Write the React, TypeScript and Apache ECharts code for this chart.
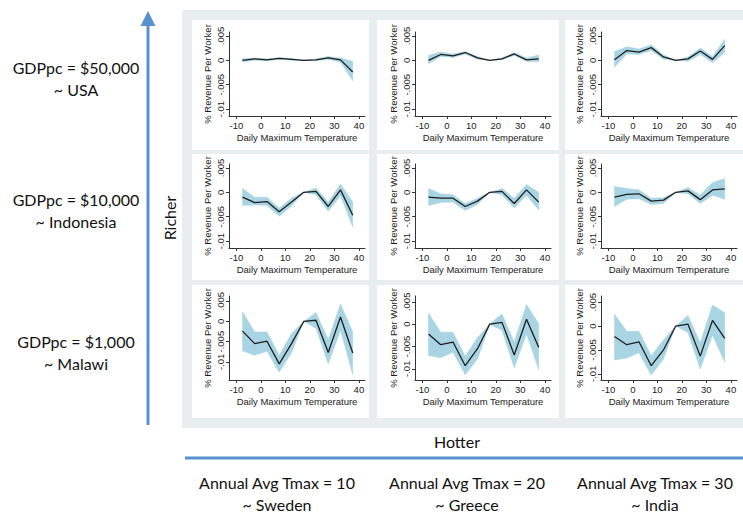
import React, { useEffect, useRef } from "react";
import * as echarts from "echarts";

// Daily maximum temperature bins (bin midpoints, °C); 15-20 is the omitted bin
const tempBins = [-7.5, -2.5, 2.5, 7.5, 12.5, 17.5, 22.5, 27.5, 32.5, 37.5];
const xTicks = [-10, 0, 10, 20, 30, 40];
const yTicks = [-0.01, -0.005, 0, 0.005];
const yTickLabels = ["-.01", "-.005", "0", ".005"];

// GDPpc $50,000 (USA)
const usa10Est = [0.0, 0.0003, 0.0001, 0.0004, 0.0002, 0, 0.0001, 0.0005, 0.0001, -0.0024];
const usa10Lo = [-0.0003, 0.0, -0.0001, 0.0002, 0.0, 0, -0.0001, 0.0002, -0.0004, -0.0042];
const usa10Hi = [0.0003, 0.0005, 0.0003, 0.0006, 0.0004, 0, 0.0003, 0.0008, 0.0005, -0.0002];

const usa20Est = [0.0, 0.0012, 0.0009, 0.0016, 0.0005, 0, 0.0003, 0.0013, 0.0001, 0.0003];
const usa20Lo = [-0.0007, 0.0008, 0.0006, 0.0013, 0.0002, 0, 0.0001, 0.001, -0.0002, -0.0003];
const usa20Hi = [0.001, 0.0017, 0.0013, 0.0018, 0.0008, 0, 0.0005, 0.0016, 0.0005, 0.0011];

const usa30Est = [0.0001, 0.002, 0.0017, 0.0026, 0.0007, 0, 0.0003, 0.0019, 0.0002, 0.003];
const usa30Lo = [-0.0014, 0.0013, 0.0012, 0.002, 0.0002, 0, -0.0002, 0.0012, -0.0005, 0.0016];
const usa30Hi = [0.0018, 0.0028, 0.0023, 0.0032, 0.0011, 0, 0.0007, 0.0025, 0.0008, 0.0043];

// GDPpc $10,000 (Indonesia)
const idn10Est = [-0.001, -0.0021, -0.0019, -0.004, -0.002, 0, 0.0002, -0.0029, 0.0005, -0.0047];
const idn10Lo = [-0.0027, -0.0026, -0.0027, -0.0049, -0.0028, 0, -0.0005, -0.0039, -0.0007, -0.0071];
const idn10Hi = [0.0008, -0.001, -0.001, -0.0032, -0.0012, 0, 0.0009, -0.002, 0.0017, -0.002];

const idn20Est = [-0.001, -0.0012, -0.0012, -0.0029, -0.0018, 0, 0.0002, -0.0023, 0.0005, -0.002];
const idn20Lo = [-0.0027, -0.0021, -0.002, -0.0037, -0.0025, 0, -0.0005, -0.0032, -0.0006, -0.0036];
const idn20Hi = [0.0008, -0.0003, -0.0005, -0.0023, -0.0012, 0, 0.0008, -0.0012, 0.0016, 0.0];

const idn30Est = [-0.001, -0.0004, -0.0003, -0.0018, -0.0016, 0, 0.0003, -0.0015, 0.0005, 0.0007];
const idn30Lo = [-0.0029, -0.0014, -0.0013, -0.0025, -0.0023, 0, -0.0003, -0.0023, -0.0006, -0.0014];
const idn30Hi = [0.0012, 0.0008, 0.0005, -0.0012, -0.0011, 0, 0.001, -0.0006, 0.002, 0.0028];

// GDPpc $1,000 (Malawi)
const mwi10Est = [-0.0024, -0.0055, -0.0049, -0.0105, -0.0055, 0, 0.0003, -0.0077, 0.0011, -0.0078];
const mwi10Lo = [-0.0073, -0.0084, -0.0074, -0.0126, -0.0078, 0, -0.0017, -0.0105, -0.0022, -0.0132];
const mwi10Hi = [0.0024, -0.0026, -0.0026, -0.0084, -0.003, 0, 0.0022, -0.0045, 0.0043, -0.0026];

const mwi20Est = [-0.0022, -0.0046, -0.004, -0.0093, -0.0055, 0, 0.0004, -0.0069, 0.0011, -0.0052];
const mwi20Lo = [-0.007, -0.0075, -0.0063, -0.0113, -0.0078, 0, -0.0014, -0.0098, -0.0022, -0.0102];
const mwi20Hi = [0.0025, -0.0018, -0.0018, -0.0072, -0.003, 0, 0.0023, -0.004, 0.0044, 0.0001];

const mwi30Est = [-0.0022, -0.0039, -0.0033, -0.0083, -0.005, 0, 0.0004, -0.0063, 0.0012, -0.0026];
const mwi30Lo = [-0.0071, -0.0067, -0.0056, -0.0103, -0.0069, 0, -0.0014, -0.009, -0.0019, -0.0076];
const mwi30Hi = [0.0025, -0.0011, -0.0011, -0.0062, -0.0029, 0, 0.0022, -0.0035, 0.0044, 0.0028];

// Row labels (income) and column labels (climate)
const incomeLabels = ["GDPpc = $50,000", "GDPpc = $10,000", "GDPpc = $1,000"];
const incomeCountries = ["~ USA", "~ Indonesia", "~ Malawi"];
const climateLabels = ["Annual Avg Tmax = 10", "Annual Avg Tmax = 20", "Annual Avg Tmax = 30"];
const climateCountries = ["~ Sweden", "~ Greece", "~ India"];

// Panels in reading order: rows = income, columns = climate
const panels = [
  { est: usa10Est, lo: usa10Lo, hi: usa10Hi, yMin: -0.0114, yMax: 0.0058 },
  { est: usa20Est, lo: usa20Lo, hi: usa20Hi, yMin: -0.0114, yMax: 0.0058 },
  { est: usa30Est, lo: usa30Lo, hi: usa30Hi, yMin: -0.0114, yMax: 0.0058 },
  { est: idn10Est, lo: idn10Lo, hi: idn10Hi, yMin: -0.0114, yMax: 0.0058 },
  { est: idn20Est, lo: idn20Lo, hi: idn20Hi, yMin: -0.0114, yMax: 0.0058 },
  { est: idn30Est, lo: idn30Lo, hi: idn30Hi, yMin: -0.0114, yMax: 0.0058 },
  { est: mwi10Est, lo: mwi10Lo, hi: mwi10Hi, yMin: -0.0145, yMax: 0.0063 },
  { est: mwi20Est, lo: mwi20Lo, hi: mwi20Hi, yMin: -0.0125, yMax: 0.0063 },
  { est: mwi30Est, lo: mwi30Lo, hi: mwi30Hi, yMin: -0.0113, yMax: 0.0063 },
];

const STATA_FONT = "'Liberation Sans', Arial, Helvetica, sans-serif";
const NOTE_FONT = "Lato, 'Open Sans', sans-serif";
const ARROW_BLUE = "#5a8fd0";
const BAND_BLUE = "#a8d4e3";
const PANEL_BG = "#e8eef0";

const gridLefts = [229, 415, 601];
const gridTops = [32, 164, 296];
const gridWidth = 136;
const gridHeight = 84;
const boxLefts = [192, 377, 565];
const boxWidths = [177, 182, 190];
const boxTops = [20, 154, 285];
const boxHeights = [130, 126, 133];

function buildOption() {
  const grid: any[] = [];
  const xAxis: any[] = [];
  const yAxis: any[] = [];
  const series: any[] = [];

  panels.forEach((p, i) => {
    const row = Math.floor(i / 3);
    const col = i % 3;
    grid.push({
      left: gridLefts[col],
      top: gridTops[row],
      width: gridWidth,
      height: gridHeight,
      containLabel: false,
    });
    xAxis.push({
      type: "value",
      gridIndex: i,
      min: -13,
      max: 42.5,
      name: "Daily Maximum Temperature",
      nameLocation: "middle",
      nameGap: 16,
      nameTextStyle: { fontFamily: STATA_FONT, fontSize: 9.5, color: "#1a1a1a" },
      axisLine: { show: true, onZero: false, lineStyle: { color: "#333", width: 1 } },
      axisTick: { show: true, length: 3, customValues: xTicks, lineStyle: { color: "#333" } },
      axisLabel: {
        customValues: xTicks,
        margin: 4,
        fontFamily: STATA_FONT,
        fontSize: 9.5,
        color: "#1a1a1a",
      },
      splitLine: { show: false },
    });
    yAxis.push({
      type: "value",
      gridIndex: i,
      min: p.yMin,
      max: p.yMax,
      name: "% Revenue Per Worker",
      nameLocation: "middle",
      nameGap: 17,
      nameTextStyle: { fontFamily: STATA_FONT, fontSize: 9.5, color: "#1a1a1a" },
      axisLine: { show: true, onZero: false, lineStyle: { color: "#333", width: 1 } },
      axisTick: { show: true, length: 3, customValues: yTicks, lineStyle: { color: "#333" } },
      axisLabel: {
        customValues: yTicks,
        rotate: 90,
        margin: 4,
        fontFamily: STATA_FONT,
        fontSize: 9.5,
        color: "#1a1a1a",
        formatter: (v: number) => {
          const k = yTicks.findIndex((t) => Math.abs(t - v) < 1e-9);
          return k >= 0 ? yTickLabels[k] : "";
        },
      },
      splitLine: { show: false },
    });

    // Confidence band: one polygon through the upper bounds and back along the lower bounds
    series.push({
      type: "custom",
      xAxisIndex: i,
      yAxisIndex: i,
      data: tempBins.map((x, k) => [x, p.lo[k], p.hi[k]]),
      encode: { x: 0, y: [1, 2] },
      silent: true,
      z: 1,
      renderItem: (params: any, api: any) => {
        if (params.dataIndex !== 0) return null;
        const upper = tempBins.map((x, k) => api.coord([x, p.hi[k]]));
        const lower = tempBins.map((x, k) => api.coord([x, p.lo[k]])).reverse();
        return {
          type: "polygon",
          shape: { points: upper.concat(lower) },
          style: { fill: BAND_BLUE, stroke: BAND_BLUE, lineWidth: 0.5 },
        };
      },
    });
    series.push({
      type: "line",
      xAxisIndex: i,
      yAxisIndex: i,
      data: tempBins.map((x, k) => [x, p.est[k]]),
      symbol: "none",
      lineStyle: { width: 1.3, color: "#1e1e1e" },
      silent: true,
      z: 3,
    });
  });

  const graphics: any[] = [];
  // Light backdrop and white panel boxes
  graphics.push({
    type: "rect",
    z: -20,
    shape: { x: 182, y: 10, width: 600, height: 418 },
    style: { fill: PANEL_BG },
    silent: true,
  });
  for (let r = 0; r < 3; r++) {
    for (let c = 0; c < 3; c++) {
      graphics.push({
        type: "rect",
        z: -10,
        shape: { x: boxLefts[c], y: boxTops[r], width: boxWidths[c], height: boxHeights[r] },
        style: { fill: "#ffffff" },
        silent: true,
      });
    }
  }

  // "Richer" arrow
  graphics.push({
    type: "line",
    shape: { x1: 148, y1: 425, x2: 148, y2: 22 },
    style: { stroke: ARROW_BLUE, lineWidth: 3 },
    silent: true,
  });
  graphics.push({
    type: "polygon",
    shape: { points: [[148, 11], [140.5, 26], [155.5, 26]] },
    style: { fill: ARROW_BLUE },
    silent: true,
  });
  graphics.push({
    type: "text",
    x: 169,
    y: 218,
    rotation: Math.PI / 2,
    style: {
      text: "Richer",
      fontFamily: NOTE_FONT,
      fontSize: 16,
      fill: "#111",
      align: "center",
      verticalAlign: "middle",
    },
    silent: true,
  });

  // Income row labels
  const rowLineY = [[67, 89], [199, 221], [341, 363]];
  const rowCenterX = [76, 76, 76];
  incomeLabels.forEach((t, r) => {
    graphics.push({
      type: "text",
      x: rowCenterX[r],
      y: rowLineY[r][0],
      style: { text: t, fontFamily: NOTE_FONT, fontSize: 16, fill: "#111", align: "center", verticalAlign: "middle" },
      silent: true,
    });
    graphics.push({
      type: "text",
      x: rowCenterX[r],
      y: rowLineY[r][1],
      style: { text: incomeCountries[r], fontFamily: NOTE_FONT, fontSize: 16, fill: "#111", align: "center", verticalAlign: "middle" },
      silent: true,
    });
  });

  // "Hotter" axis
  graphics.push({
    type: "text",
    x: 457,
    y: 441,
    style: { text: "Hotter", fontFamily: NOTE_FONT, fontSize: 16, fill: "#111", align: "center", verticalAlign: "middle" },
    silent: true,
  });
  graphics.push({
    type: "line",
    shape: { x1: 185, y1: 458, x2: 743, y2: 458 },
    style: { stroke: ARROW_BLUE, lineWidth: 3 },
    silent: true,
  });

  // Climate column labels
  const colCenterX = [277, 467, 655];
  climateLabels.forEach((t, c) => {
    graphics.push({
      type: "text",
      x: colCenterX[c],
      y: 482,
      style: { text: t, fontFamily: NOTE_FONT, fontSize: 16, fill: "#111", align: "center", verticalAlign: "middle" },
      silent: true,
    });
    graphics.push({
      type: "text",
      x: colCenterX[c],
      y: 504,
      style: { text: climateCountries[c], fontFamily: NOTE_FONT, fontSize: 16, fill: "#111", align: "center", verticalAlign: "middle" },
      silent: true,
    });
  });

  return {
    animation: false,
    backgroundColor: "#ffffff",
    grid,
    xAxis,
    yAxis,
    series,
    graphic: { elements: graphics },
  };
}

export default function App() {
  const ref = useRef<HTMLDivElement>(null);

  useEffect(() => {
    if (!ref.current) return;
    const chart = echarts.init(ref.current, undefined, { renderer: "svg" });
    chart.setOption(buildOption() as any);
    return () => chart.dispose();
  }, []);

  return (
    <div
      ref={ref}
      style={{ position: "fixed", left: 0, top: 0, width: 743, height: 518, background: "#fff" }}
    />
  );
}
